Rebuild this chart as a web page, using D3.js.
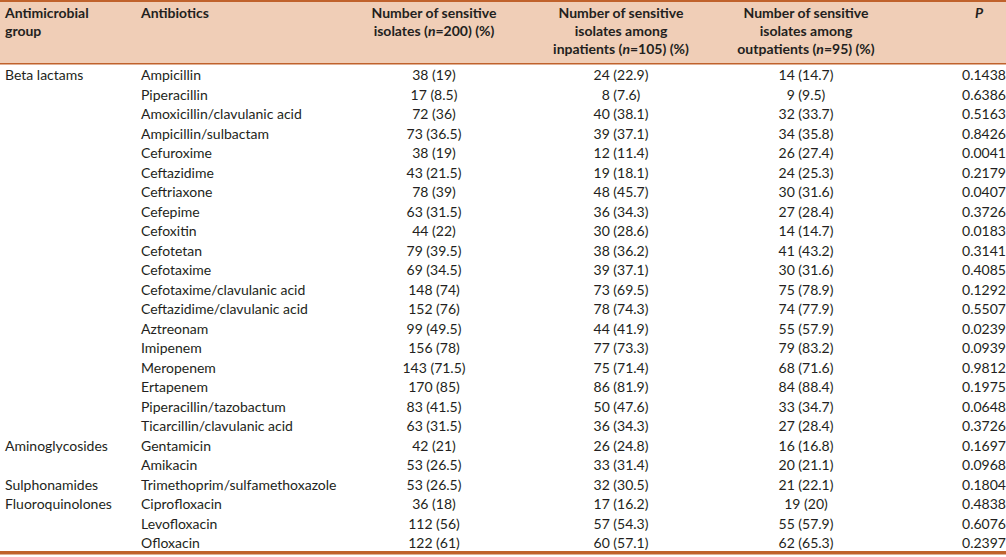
<!DOCTYPE html>
<html>
<head>
<meta charset="utf-8">
<script src="https://cdn.jsdelivr.net/npm/d3@7"></script>
<style>
  html, body { margin: 0; padding: 0; background: #fff; }
  svg text { font-family: Lato, "Open Sans", sans-serif; fill: #231f20; }
  .hd { font-weight: bold; font-size: 14px; }
  .cell { font-size: 14px; }
</style>
</head>
<body>
<div class="chart"></div>
<script>
// table data
var groups = ["Beta lactams", "Aminoglycosides", "Sulphonamides", "Fluoroquinolones"];
var groupSizes = [19, 2, 1, 3];
var antibiotics = ["Ampicillin", "Piperacillin", "Amoxicillin/clavulanic acid", "Ampicillin/sulbactam",
  "Cefuroxime", "Ceftazidime", "Ceftriaxone", "Cefepime", "Cefoxitin", "Cefotetan", "Cefotaxime",
  "Cefotaxime/clavulanic acid", "Ceftazidime/clavulanic acid", "Aztreonam", "Imipenem", "Meropenem",
  "Ertapenem", "Piperacillin/tazobactum", "Ticarcillin/clavulanic acid", "Gentamicin", "Amikacin",
  "Trimethoprim/sulfamethoxazole", "Ciprofloxacin", "Levofloxacin", "Ofloxacin"];
var totalN = [38, 17, 72, 73, 38, 43, 78, 63, 44, 79, 69, 148, 152, 99, 156, 143, 170, 83, 63, 42, 53, 53, 36, 112, 122];
var totalPct = [19, 8.5, 36, 36.5, 19, 21.5, 39, 31.5, 22, 39.5, 34.5, 74, 76, 49.5, 78, 71.5, 85, 41.5, 31.5, 21, 26.5, 26.5, 18, 56, 61];
var inN = [24, 8, 40, 39, 12, 19, 48, 36, 30, 38, 39, 73, 78, 44, 77, 75, 86, 50, 36, 26, 33, 32, 17, 57, 60];
var inPct = [22.9, 7.6, 38.1, 37.1, 11.4, 18.1, 45.7, 34.3, 28.6, 36.2, 37.1, 69.5, 74.3, 41.9, 73.3, 71.4, 81.9, 47.6, 34.3, 24.8, 31.4, 30.5, 16.2, 54.3, 57.1];
var outN = [14, 9, 32, 34, 26, 24, 30, 27, 14, 41, 30, 75, 74, 55, 79, 68, 84, 33, 27, 16, 20, 21, 19, 55, 62];
var outPct = [14.7, 9.5, 33.7, 35.8, 27.4, 25.3, 31.6, 28.4, 14.7, 43.2, 31.6, 78.9, 77.9, 57.9, 83.2, 71.6, 88.4, 34.7, 28.4, 16.8, 21.1, 22.1, 20, 57.9, 65.3];
var pValues = [0.1438, 0.6386, 0.5163, 0.8426, 0.0041, 0.2179, 0.0407, 0.3726, 0.0183, 0.3141, 0.4085,
  0.1292, 0.5507, 0.0239, 0.0939, 0.9812, 0.1975, 0.0648, 0.3726, 0.1697, 0.0968, 0.1804, 0.4838, 0.6076, 0.2397];

// header lines, pieces marked i are italic
var headers = [
  [[["Antimicrobial"]], [["group"]]],
  [[["Antibiotics"]]],
  [[["Number of sensitive"]], [["isolates ("], ["n", "i"], ["=200) (%)"]]],
  [[["Number of sensitive"]], [["isolates among"]], [["inpatients ("], ["n", "i"], ["=105) (%)"]]],
  [[["Number of sensitive"]], [["isolates among"]], [["outpatients ("], ["n", "i"], ["=95) (%)"]]],
  [[["P", "i"]]]
];

var width = 1006, height = 557;
var headH = 64;

var colX = d3.scaleOrdinal().domain(d3.range(6)).range([5, 141, 434, 621, 806, 984]);
var colAnchor = ["start", "start", "middle", "middle", "middle", "middle"];

var y = d3.scaleLinear().domain([0, antibiotics.length - 1]).range([80, 548]);

var svg = d3.select("div.chart").append("svg")
    .attr("width", width)
    .attr("height", height);

svg.append("rect")
    .attr("x", 0).attr("y", 0)
    .attr("width", width).attr("height", headH)
    .attr("fill", "#f0ceb7");
svg.append("rect")
    .attr("x", 0).attr("y", 0)
    .attr("width", width).attr("height", 2)
    .attr("fill", "#c0622c");
svg.append("rect")
    .attr("x", 0).attr("y", headH - 1)
    .attr("width", width).attr("height", 1.5)
    .attr("fill", "#c0622c");
svg.append("rect")
    .attr("x", 0).attr("y", 551)
    .attr("width", width).attr("height", 3.5)
    .attr("fill", "#c0622c");

// header
headers.forEach(function(lines, c) {
  lines.forEach(function(parts, li) {
    var t = svg.append("text")
        .attr("class", "hd")
        .attr("x", c == 5 ? 979 : colX(c))
        .attr("y", 18 + li * 18)
        .attr("text-anchor", colAnchor[c]);
    parts.forEach(function(p) {
      t.append("tspan")
          .style("font-style", p[1] == "i" ? "italic" : "normal")
          .text(p[0]);
    });
  });
});

// group labels on first row of each group
var starts = groupSizes.map(function(s, i) { return d3.sum(groupSizes.slice(0, i)); });
svg.selectAll(".grp")
    .data(groups)
  .enter().append("text")
    .attr("class", "cell grp")
    .attr("x", colX(0))
    .attr("y", function(d, i) { return y(starts[i]); })
    .text(function(d) { return d; });

var fmtP = d3.format(".4f");
var rows = antibiotics.map(function(a, i) {
  return [a,
    totalN[i] + " (" + totalPct[i] + ")",
    inN[i] + " (" + inPct[i] + ")",
    outN[i] + " (" + outPct[i] + ")",
    fmtP(pValues[i])];
});

var row = svg.selectAll(".row")
    .data(rows)
  .enter().append("g")
    .attr("class", "row")
    .attr("transform", function(d, i) { return "translate(0," + y(i) + ")"; });

row.selectAll("text")
    .data(function(d) { return d; })
  .enter().append("text")
    .attr("class", "cell")
    .attr("x", function(d, j) { return colX(j + 1); })
    .attr("text-anchor", function(d, j) { return colAnchor[j + 1]; })
    .text(function(d) { return d; });
</script>
</body>
</html>
